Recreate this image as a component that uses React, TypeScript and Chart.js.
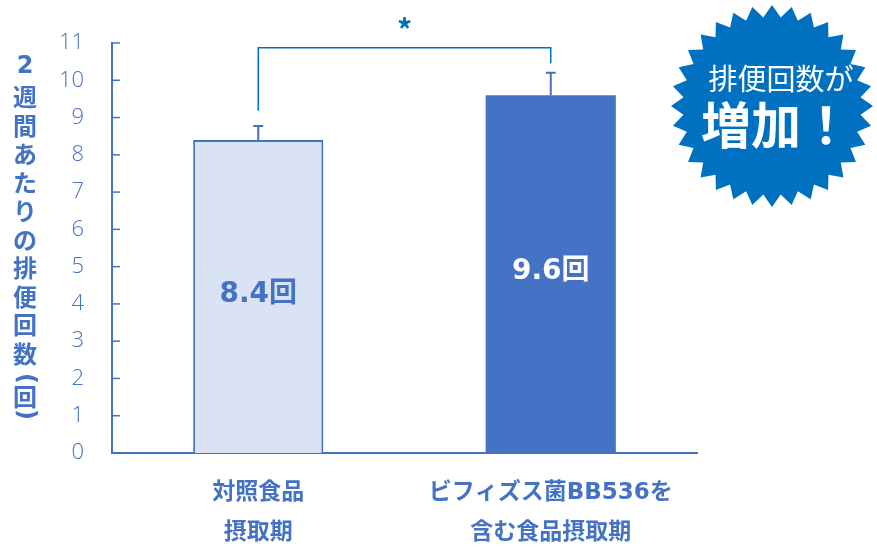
import React, { useEffect, useRef } from "react";
import { Chart, registerables } from "chart.js";

Chart.register(...registerables);

const categories: string[][] = [
  ["対照食品", "摂取期"],
  ["ビフィズス菌BB536を", "含む食品摂取期"],
];
const values: number[] = [8.4, 9.6];
const errors: number[] = [0.37, 0.6];
const valueLabels: string[] = ["8.4回", "9.6回"];
const yTicks: number[] = [0, 1, 2, 3, 4, 5, 6, 7, 8, 9, 10, 11];
const yTitleChars: string[] = ["2", "週", "間", "あ", "た", "り", "の", "排", "便", "回", "数"];
const yTitleUnit: string[] = ["(", "回", ")"];
const bracketTop = 10.87;
const bracketLegEnds: number[] = [9.18, 10.46];
const badgeLines: string[] = ["排便回数が", "増加！"];

const BLUE = "#4472C4";
const DARK = "#0070C0";
const JP = '"Noto Sans CJK JP", "Noto Sans", sans-serif';
const LATIN_JP = '"DejaVu Sans", "Noto Sans CJK JP", sans-serif';

const overlay = {
  id: "overlay",
  afterDatasetsDraw(chart: any) {
    const ctx = chart.ctx;
    const y = chart.scales.y;
    const area = chart.chartArea;
    ctx.save();
    // inward ticks on y axis
    ctx.strokeStyle = BLUE;
    ctx.lineWidth = 1.5;
    yTicks.forEach((v) => {
      const py = y.getPixelForValue(v);
      ctx.beginPath();
      ctx.moveTo(area.left, py);
      ctx.lineTo(area.left + 8, py);
      ctx.stroke();
    });
    // error bars
    const meta = chart.getDatasetMeta(0);
    meta.data.forEach((bar: any, i: number) => {
      const top = y.getPixelForValue(values[i] + errors[i]);
      ctx.strokeStyle = BLUE;
      ctx.lineWidth = 2;
      ctx.beginPath();
      ctx.moveTo(bar.x, bar.y);
      ctx.lineTo(bar.x, top);
      ctx.moveTo(bar.x - 5, top);
      ctx.lineTo(bar.x + 5, top);
      ctx.stroke();
      // value labels
      ctx.fillStyle = i === 0 ? BLUE : "#FFFFFF";
      ctx.font = `bold 28px ${LATIN_JP}`;
      ctx.textAlign = "center";
      ctx.textBaseline = "middle";
      ctx.fillText(valueLabels[i], bar.x, (bar.y + bar.base) / 2 - 2);
    });
    // significance bracket
    const x0 = meta.data[0].x;
    const x1 = meta.data[1].x;
    const by = y.getPixelForValue(bracketTop);
    ctx.strokeStyle = DARK;
    ctx.lineWidth = 1.5;
    ctx.beginPath();
    ctx.moveTo(x0, y.getPixelForValue(bracketLegEnds[0]));
    ctx.lineTo(x0, by);
    ctx.lineTo(x1, by);
    ctx.lineTo(x1, y.getPixelForValue(bracketLegEnds[1]));
    ctx.stroke();
    ctx.fillStyle = DARK;
    ctx.font = `bold 30px ${JP}`;
    ctx.textAlign = "center";
    ctx.textBaseline = "middle";
    ctx.fillText("*", (x0 + x1) / 2, by - 18);

    // y title (vertical, upright characters)
    ctx.fillStyle = BLUE;
    let cy = 67;
    yTitleChars.forEach((c, i) => {
      ctx.font = i === 0 ? `bold 24px ${LATIN_JP}` : `bold 24px ${JP}`;
      ctx.fillText(c, 25, cy);
      if (i < yTitleChars.length - 1) cy += i === 0 ? 30 : 28.5;
    });
    const unitOffsets = [25, 43, 61];
    yTitleUnit.forEach((c, i) => {
      const py = cy + unitOffsets[i];
      if (c === "回") {
        ctx.font = `bold 24px ${JP}`;
        ctx.fillText(c, 25, py);
      } else {
        ctx.save();
        ctx.translate(25, py);
        ctx.rotate(Math.PI / 2);
        ctx.font = `bold 24px ${LATIN_JP}`;
        ctx.fillText(c, 0, 0);
        ctx.restore();
      }
    });

    // starburst badge
    const cx = 772;
    const ccy = 106;
    const n = 32;
    const rO = 101;
    const rI = 89;
    ctx.fillStyle = DARK;
    ctx.beginPath();
    for (let k = 0; k < n * 2; k++) {
      const r = k % 2 === 0 ? rO : rI;
      const a = (Math.PI * k) / n - Math.PI / 2;
      const px = cx + r * Math.cos(a);
      const py = ccy + r * Math.sin(a);
      if (k === 0) ctx.moveTo(px, py);
      else ctx.lineTo(px, py);
    }
    ctx.closePath();
    ctx.fill();
    ctx.fillStyle = "#FFFFFF";
    ctx.font = `29px ${JP}`;
    ctx.fillText(badgeLines[0], cx + 9, 79);
    ctx.font = `bold 50px ${JP}`;
    ctx.fillText(badgeLines[1], cx + 4, 125);
    ctx.restore();
  },
};

export default function App() {
  const ref = useRef<HTMLCanvasElement | null>(null);
  useEffect(() => {
    if (!ref.current) return;
    const chart = new Chart(ref.current, {
      type: "bar",
      data: {
        labels: categories,
        datasets: [
          {
            data: values,
            backgroundColor: ["#DAE3F3", BLUE],
            borderColor: [BLUE, BLUE],
            borderWidth: [2, 0],
            barPercentage: 0.445,
            categoryPercentage: 1,
          },
        ],
      },
      options: {
        animation: false,
        responsive: false,
        devicePixelRatio: 1,
        layout: { padding: { left: 0, top: 43, right: 180, bottom: 0 } },
        plugins: { legend: { display: false }, tooltip: { enabled: false } },
        scales: {
          x: {
            grid: { display: false, drawTicks: false },
            border: { display: true, color: BLUE, width: 2 },
            ticks: {
              color: BLUE,
              padding: 20,
              font: { family: LATIN_JP, size: 23, weight: "bold", lineHeight: 40 / 23 },
            },
            afterFit: (s: any) => {
              s.height = 94;
            },
          },
          y: {
            min: 0,
            max: 11,
            grid: { display: false, drawTicks: false },
            border: { display: true, color: BLUE, width: 2 },
            ticks: {
              stepSize: 1,
              color: BLUE,
              padding: 28,
              font: { family: '"Open Sans", sans-serif', size: 22, weight: 300 },
            },
            afterFit: (s: any) => {
              s.width = 112;
            },
          },
        },
      },
      plugins: [overlay],
    });
    return () => chart.destroy();
  }, []);
  return (
    <div style={{ position: "fixed", left: 0, top: 0, width: 877, height: 547, background: "#fff" }}>
      <canvas ref={ref} width={877} height={547} style={{ width: 877, height: 547 }} />
    </div>
  );
}
